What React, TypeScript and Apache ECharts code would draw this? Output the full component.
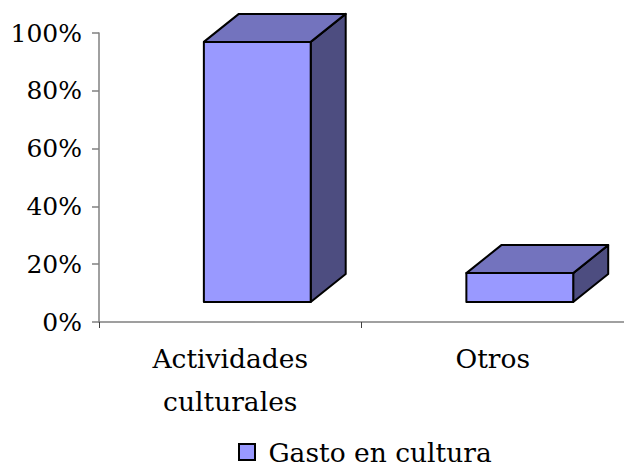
import React, { useEffect, useRef } from "react";
import * as echarts from "echarts";

const categories = ["Actividades\nculturales", "Otros"];
const values = [0.9, 0.1];
const seriesName = "Gasto en cultura";
const yMin = 0;
const yMax = 1;
const yStep = 0.2;

const FONT = "DejaVu Serif";

export default function App() {
  const ref = useRef<HTMLDivElement>(null);
  useEffect(() => {
    if (!ref.current) return;
    const chart = echarts.init(ref.current, undefined, { renderer: "svg" });
    const frontColor = "#9999FF";
    const topColor = "#7373BE";
    const sideColor = "#4D4D80";
    chart.setOption({
      animation: false,
      backgroundColor: "#ffffff",
      grid: { left: 99, right: -1, top: 33, bottom: 146, containLabel: false },
      legend: {
        left: 233,
        top: 436,
        padding: [2, 5, 2, 5],
        itemWidth: 16,
        itemHeight: 16,
        itemGap: 10,
        formatter: (n: string) => " " + n,
        textStyle: { fontFamily: FONT, fontSize: 26.5, lineHeight: 28, color: "#000" },
        data: [{ name: seriesName, icon: "rect" }],
      },
      xAxis: {
        type: "category",
        data: categories,
        boundaryGap: true,
        axisLine: { lineStyle: { color: "#808080", width: 1.5 } },
        axisTick: { show: true, length: 6, lineStyle: { color: "#404040", width: 1 } },
        axisLabel: {
          fontFamily: FONT,
          fontSize: 26.5,
          color: "#000",
          lineHeight: 43,
          margin: 15,
          interval: 0,
        },
        splitLine: { show: false },
      },
      yAxis: {
        type: "value",
        min: yMin,
        max: yMax,
        interval: yStep,
        axisLine: { show: true, lineStyle: { color: "#808080", width: 1.5 } },
        axisTick: { show: true, length: 7, lineStyle: { color: "#808080", width: 1.5 } },
        axisLabel: {
          fontFamily: FONT,
          fontSize: 25,
          color: "#000",
          margin: 17,
          formatter: (v: number) => Math.round(v * 100) + "%",
        },
        splitLine: { show: false },
      },
      series: [
        {
          name: seriesName,
          type: "custom",
          clip: false,
          itemStyle: { color: frontColor, borderColor: "#000", borderWidth: 2 },
          data: values.map((v, i) => [i, v]),
          encode: { x: 0, y: 1 },
          renderItem: (params: any, api: any) => {
            const idx = api.value(0);
            const v = api.value(1);
            const topPt = api.coord([idx, v]);
            const basePt = api.coord([idx, 0]);
            const band = api.size([1, 0])[0];
            const w = band * 0.407;
            const off = band * 0.103;
            const lift = 20;
            const dx = 35;
            const dy = -28;
            const x0 = topPt[0] + off - w / 2;
            const x1 = x0 + w;
            const yt = topPt[1] - lift;
            const yb = basePt[1] - lift;
            const stroke = { stroke: "#000", lineWidth: 2, lineJoin: "round" };
            return {
              type: "group",
              children: [
                {
                  type: "polygon",
                  shape: { points: [[x1, yt], [x1 + dx, yt + dy], [x1 + dx, yb + dy], [x1, yb]] },
                  style: { fill: sideColor, ...stroke },
                },
                {
                  type: "polygon",
                  shape: { points: [[x0, yt], [x0 + dx, yt + dy], [x1 + dx, yt + dy], [x1, yt]] },
                  style: { fill: topColor, ...stroke },
                },
                {
                  type: "rect",
                  shape: { x: x0, y: yt, width: w, height: yb - yt },
                  style: { fill: frontColor, ...stroke },
                },
              ],
            };
          },
        },
      ],
    });
    return () => chart.dispose();
  }, []);
  return (
    <div
      ref={ref}
      style={{ position: "absolute", left: 0, top: 0, width: 624, height: 468, background: "#fff" }}
    />
  );
}
